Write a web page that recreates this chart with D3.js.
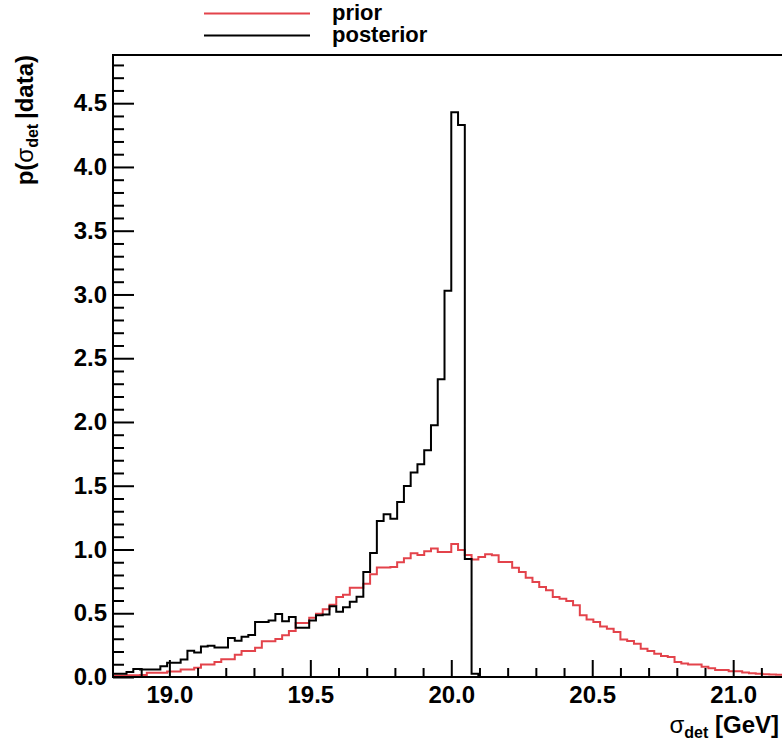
<!DOCTYPE html>
<html>
<head>
<meta charset="utf-8">
<script src="https://cdn.jsdelivr.net/npm/d3@7"></script>
<style>
  html, body { margin: 0; padding: 0; background: #fff; }
  svg { display: block; }
  text { font-family: "Liberation Sans", Arial, Helvetica, sans-serif; font-weight: bold; fill: #000; }
</style>
</head>
<body>
<script>
// ---- data ----
const xRange = [18.8, 21.2];      // histogram axis range (GeV)
const nBins = 100;
const yMax = 4.878;
const xMajorTicks = [19.0, 19.5, 20.0, 20.5, 21.0];
const yMajorTicks = [0.0, 0.5, 1.0, 1.5, 2.0, 2.5, 3.0, 3.5, 4.0, 4.5];
const seriesNames = ["prior", "posterior"];

const prior = [
  0.012, 0.012, 0.013, 0.013, 0.015, 0.034, 0.034, 0.034, 0.044, 0.044,
  0.058, 0.058, 0.073, 0.099, 0.099, 0.118, 0.139, 0.139, 0.175, 0.204,
  0.204, 0.230, 0.280, 0.280, 0.298, 0.327, 0.361, 0.424, 0.424, 0.465,
  0.497, 0.531, 0.567, 0.627, 0.645, 0.700, 0.700, 0.732, 0.805, 0.858,
  0.858, 0.862, 0.900, 0.932, 0.970, 0.957, 0.987, 1.007, 0.980, 0.980,
  1.043, 0.996, 0.957, 0.922, 0.941, 0.962, 0.954, 0.902, 0.902, 0.857,
  0.824, 0.779, 0.745, 0.706, 0.680, 0.627, 0.614, 0.596, 0.562, 0.484,
  0.450, 0.431, 0.397, 0.379, 0.353, 0.295, 0.282, 0.261, 0.222, 0.204,
  0.183, 0.165, 0.157, 0.118, 0.105, 0.099, 0.099, 0.080, 0.068, 0.055,
  0.055, 0.045, 0.045, 0.035, 0.030, 0.026, 0.022, 0.020, 0.018, 0.015
];

const posterior = [
  0.026, 0.026, 0.040, 0.063, 0.058, 0.058, 0.058, 0.084, 0.112, 0.112,
  0.137, 0.205, 0.192, 0.240, 0.245, 0.232, 0.232, 0.305, 0.285, 0.315,
  0.330, 0.431, 0.431, 0.444, 0.494, 0.437, 0.470, 0.387, 0.387, 0.444,
  0.484, 0.490, 0.554, 0.512, 0.547, 0.590, 0.630, 0.824, 0.973, 1.224,
  1.276, 1.242, 1.373, 1.498, 1.603, 1.668, 1.778, 1.974, 2.335, 3.030,
  4.430, 4.330, 0.925, 0.025, 0, 0, 0, 0, 0, 0,
  0, 0, 0, 0, 0, 0, 0, 0, 0, 0,
  0, 0, 0, 0, 0, 0, 0, 0, 0, 0,
  0, 0, 0, 0, 0, 0, 0, 0, 0, 0,
  0, 0, 0, 0, 0, 0, 0, 0, 0, 0
];

// ---- layout ----
const W = 782, H = 743;
const mLeft = 113, mTop = 55, mBottom = 677;
const pxPerUnit = 281.9;
const mRight = mLeft + (xRange[1] - xRange[0]) * pxPerUnit;

const svg = d3.select("body").append("svg").attr("width", W).attr("height", H);

const x = d3.scaleLinear().domain(xRange).range([mLeft, mRight]);
const y = d3.scaleLinear().domain([0, yMax]).range([mBottom, mTop]);

const binW = (xRange[1] - xRange[0]) / nBins;
function stepPoints(vals) {
  const pts = vals.map((v, i) => [xRange[0] + i * binW, v]);
  pts.push([xRange[1], vals[vals.length - 1]]);
  return pts;
}
const line = d3.line().x(d => x(d[0])).y(d => y(d[1])).curve(d3.curveStepAfter);

// histograms
svg.append("path").attr("d", line(stepPoints(prior)))
  .attr("fill", "none").attr("stroke", "#e3434b").attr("stroke-width", 2);
svg.append("path").attr("d", line(stepPoints(posterior)))
  .attr("fill", "none").attr("stroke", "#000").attr("stroke-width", 2);

// minor ticks
const xMinor = d3.range(189, 212).map(v => v / 10).filter(v => !xMajorTicks.some(m => Math.abs(m - v) < 1e-6));
const yMinor = d3.range(1, 49).map(v => v / 10).filter(v => !yMajorTicks.some(m => Math.abs(m - v) < 1e-6));

const gx = svg.append("g").attr("transform", `translate(0,${mBottom})`);
gx.call(d3.axisBottom(x).tickValues(xMajorTicks).tickSizeInner(-17).tickSizeOuter(0)
  .tickPadding(9).tickFormat(d3.format(".1f")));
const gxm = svg.append("g").attr("transform", `translate(0,${mBottom})`);
gxm.call(d3.axisBottom(x).tickValues(xMinor).tickSizeInner(-9).tickSizeOuter(0).tickFormat(""));

const gy = svg.append("g").attr("transform", `translate(${mLeft},0)`);
gy.call(d3.axisLeft(y).tickValues(yMajorTicks).tickSizeInner(-21).tickSizeOuter(0)
  .tickPadding(6).tickFormat(d3.format(".1f")));
const gym = svg.append("g").attr("transform", `translate(${mLeft},0)`);
gym.call(d3.axisLeft(y).tickValues(yMinor).tickSizeInner(-11).tickSizeOuter(0).tickFormat(""));

svg.selectAll(".domain").remove();
svg.selectAll(".tick line").attr("stroke", "#000").attr("stroke-width", 2);
svg.selectAll(".tick text").style("font-size", "24px")
  .style("font-family", '"Liberation Sans", Arial, Helvetica, sans-serif').style("font-weight", "bold")
  .attr("fill", "#000");

// frame
svg.append("rect").attr("x", mLeft).attr("y", mTop).attr("width", mRight - mLeft).attr("height", mBottom - mTop)
  .attr("fill", "none").attr("stroke", "#000").attr("stroke-width", 2);

// axis titles
const xt = svg.append("text").attr("x", 779).attr("y", 733).attr("text-anchor", "end").style("font-size", "24px");
xt.append("tspan").text("σ").style("font-weight", "normal");
xt.append("tspan").text("det").style("font-size", "16px").attr("dy", 5);
xt.append("tspan").text(" [GeV]").attr("dy", -5);

const yt = svg.append("text").attr("transform", `translate(33,${mTop}) rotate(-90)`)
  .attr("text-anchor", "end").style("font-size", "24px");
yt.append("tspan").text("p(");
yt.append("tspan").text("σ").style("font-weight", "normal");
yt.append("tspan").text("det").style("font-size", "16px").attr("dy", 5);
yt.append("tspan").text("\u2009|data)").attr("dy", -5);

// legend
const legColors = ["#e3434b", "#000"];
const legY = [13.5, 35.5];
seriesNames.forEach((name, i) => {
  svg.append("line").attr("x1", 204).attr("x2", 310).attr("y1", legY[i]).attr("y2", legY[i])
    .attr("stroke", legColors[i]).attr("stroke-width", 2);
  svg.append("text").attr("x", 332).attr("y", legY[i] + 6.5).style("font-size", "22px").text(name);
});
</script>
</body>
</html>
